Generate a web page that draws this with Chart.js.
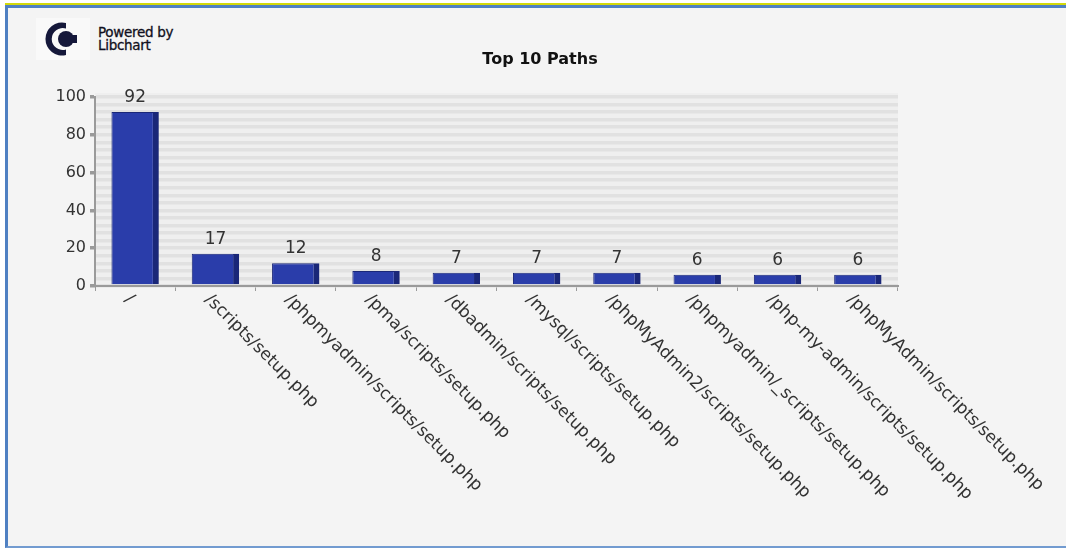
<!DOCTYPE html>
<html>
<head>
<meta charset="utf-8">
<title>Top 10 Paths</title>
<script src="https://cdn.jsdelivr.net/npm/chart.js@4/dist/chart.umd.min.js"></script>
<style>
    html, body { margin: 0; padding: 0; background: #ffffff; }
    body { width: 1066px; height: 548px; position: relative; overflow: hidden; font-family: "DejaVu Sans", sans-serif; }
    .frame {
        position: absolute; left: 5px; top: 5px; width: 1100px; height: 538px;
        background: #f4f4f4;
        border-top: 3px solid #4f80c2;
        border-left: 3px solid #4f80c2;
        border-bottom: 2px solid #729bd0;
    }
    .frame-top { position: absolute; left: 5px; top: 3px; width: 1100px; height: 2px; background: #d2d90a; }
    .logo { position: absolute; left: 36px; top: 18px; width: 54px; height: 42px; background: #f9f9f9; }
    .brand { position: absolute; left: 98px; top: 26px; font-size: 13.5px; line-height: 13px; color: #101020; letter-spacing: -0.3px; -webkit-text-stroke: 0.3px #101020; }
    #chart { position: absolute; left: 0; top: 0; }
</style>
</head>
<body>
<div class="frame-top"></div>
<div class="frame"></div>
<div class="logo">
    <svg width="54" height="42" viewBox="0 0 54 42">
        <path d="M30 5 A16.5 16.5 0 1 0 30 37 L30 31.5 A11 11 0 1 1 30 10.5 Z" fill="#15183a"/>
        <circle cx="30" cy="21" r="8" fill="#15183a"/>
        <rect x="34" y="17" width="7" height="8" fill="#15183a"/>
    </svg>
</div>
<div class="brand">Powered by<br>Libchart</div>
<canvas id="chart" width="1066" height="548"></canvas>
<script>
// request paths and how often each one was hit
var categories = [
    '/',
    '/scripts/setup.php',
    '/phpmyadmin/scripts/setup.php',
    '/pma/scripts/setup.php',
    '/dbadmin/scripts/setup.php',
    '/mysql/scripts/setup.php',
    '/phpMyAdmin2/scripts/setup.php',
    '/phpmyadmin/_scripts/setup.php',
    '/php-my-admin/scripts/setup.php',
    '/phpMyAdmin/scripts/setup.php'
];
var hits = [92, 17, 12, 8, 7, 7, 7, 6, 6, 6];
var yTickLabels = [0, 20, 40, 60, 80, 100];

var textColor = '#333333';
var axisColor = '#9a9a9a';

// striped plot background + the title
var backdrop = {
    id: 'backdrop',
    beforeDraw: function(chart) {
        var ctx = chart.ctx, a = chart.chartArea;
        ctx.save();
        ctx.fillStyle = '#efefef';
        ctx.fillRect(a.left, a.top - 4, a.right - a.left, a.bottom - a.top + 4);
        ctx.fillStyle = '#111111';
        ctx.font = 'bold 16px "DejaVu Sans"';
        ctx.textAlign = 'center';
        ctx.textBaseline = 'middle';
        ctx.fillText('Top 10 Paths', 540, 60);
        ctx.restore();
    }
};

// numbers above each bar
var valueLabels = {
    id: 'valueLabels',
    afterDatasetsDraw: function(chart) {
        var ctx = chart.ctx;
        var meta = chart.getDatasetMeta(0);
        ctx.save();
        ctx.fillStyle = textColor;
        ctx.font = '17px "DejaVu Sans"';
        ctx.textAlign = 'center';
        ctx.textBaseline = 'bottom';
        meta.data.forEach(function(bar, i) {
            ctx.fillText(hits[i], bar.x, bar.y - 6);
        });
        ctx.restore();
    }
};

// slanted category names, running down and to the right from each tick
var slantedLabels = {
    id: 'slantedLabels',
    afterDraw: function(chart) {
        var ctx = chart.ctx;
        var xScale = chart.scales.x;
        var bottom = chart.chartArea.bottom;
        ctx.save();
        ctx.fillStyle = textColor;
        ctx.font = '17px "DejaVu Sans"';
        ctx.textAlign = 'left';
        ctx.textBaseline = 'top';
        categories.forEach(function(name, i) {
            var x = xScale.getPixelForValue(i);
            ctx.save();
            ctx.translate(x - 2, bottom + 5);
            ctx.rotate(Math.PI / 4);
            ctx.fillText(name, 0, 0);
            ctx.restore();
        });
        ctx.restore();
    }
};

var ctx = document.getElementById('chart').getContext('2d');
var myChart = new Chart(ctx, {
    type: 'bar',
    data: {
        labels: categories,
        datasets: [{
            data: hits,
            backgroundColor: '#2a3daa',
            borderColor: '#1a2778',
            borderWidth: { top: 1, left: 1, right: 6, bottom: 0 },
            barPercentage: 0.59,
            categoryPercentage: 1
        }]
    },
    options: {
        responsive: false,
        animation: false,
        devicePixelRatio: 1,
        layout: { padding: { top: 97, right: 168, bottom: 0, left: 0 } },
        plugins: {
            legend: { display: false },
            title: { display: false },
            tooltip: { enabled: false }
        },
        scales: {
            x: {
                afterFit: function(scale) { scale.height = 262; },
                ticks: { display: false },
                grid: {
                    drawOnChartArea: false,
                    drawTicks: true,
                    tickLength: 5,
                    tickColor: axisColor,
                    offset: true
                },
                border: { color: axisColor, width: 2 }
            },
            y: {
                min: 0,
                max: 100,
                afterFit: function(scale) { scale.width = 95; },
                ticks: {
                    stepSize: 4,
                    autoSkip: false,
                    padding: 4,
                    color: textColor,
                    font: { family: 'DejaVu Sans', size: 16 },
                    callback: function(value) {
                        return yTickLabels.indexOf(value) >= 0 ? value : '';
                    }
                },
                grid: {
                    color: '#e1e1e1',
                    lineWidth: 3.5,
                    tickLength: 5,
                    tickColor: function(c) {
                        return c.tick && yTickLabels.indexOf(c.tick.value) >= 0 ? axisColor : 'rgba(0,0,0,0)';
                    }
                },
                border: { color: axisColor, width: 2 }
            }
        }
    },
    plugins: [backdrop, valueLabels, slantedLabels]
});
</script>
</body>
</html>
